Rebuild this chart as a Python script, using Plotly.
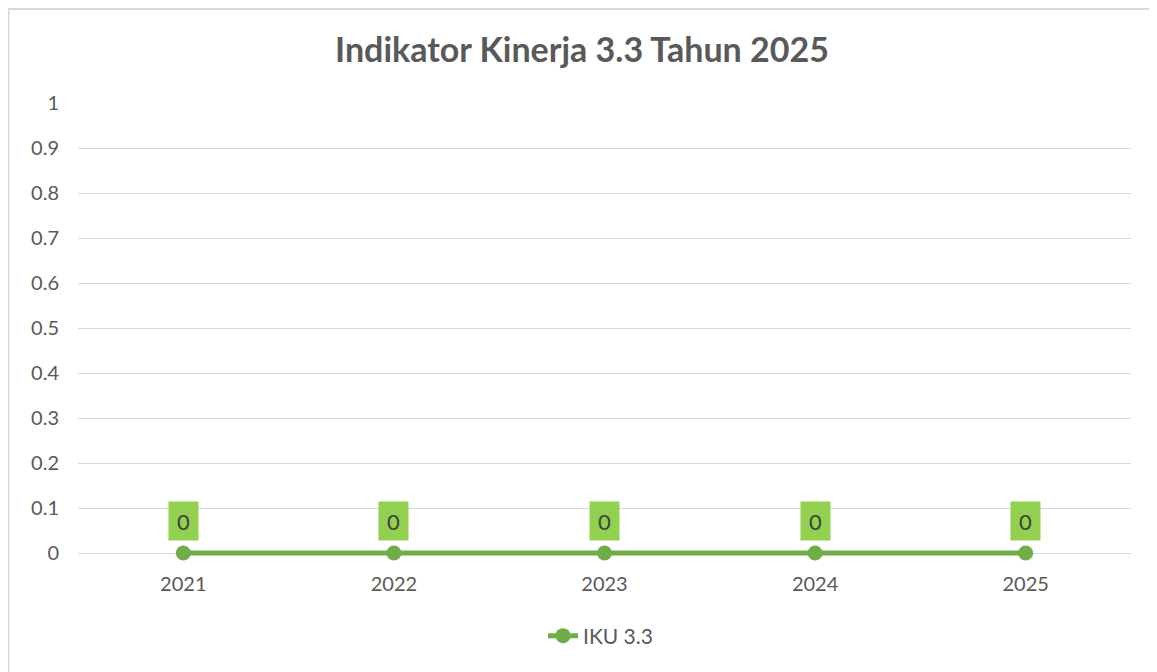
import plotly.graph_objects as go

years = ["2021", "2022", "2023", "2024", "2025"]
iku_values = [0, 0, 0, 0, 0]
series_name = "IKU 3.3"
title_text = "Indikator Kinerja 3.3 Tahun 2025"

OFF = 8  # page body margin
PAD = 4  # px of room below the zero line so the line is not clipped
W, H = 1157 - OFF, 672 - OFF
L, R, T, B = 78 - OFF, 26, 103 - OFF, 672 - 553 - PAD
pw, ph = W - L - R, H - T - B
ymin = -PAD / 450.0

FONT = "Lato"
GRAY = "#595959"
GREEN = "#70AD47"

fig = go.Figure()
fig.add_trace(go.Scatter(
    x=years, y=iku_values, name=series_name, mode="lines+markers",
    line=dict(color=GREEN, width=5),
    marker=dict(color=GREEN, size=15),
    cliponaxis=False,
))

for i, v in enumerate(iku_values):
    fig.add_annotation(
        x=i, y=v, xref="x", yref="y", text=str(v), showarrow=False, yshift=32,
        bgcolor="#92D050", width=29, height=38, borderpad=0,
        font=dict(family=FONT, size=22, color="#404040"),
    )

def px_x(p):
    return (p - OFF - L) / pw

def px_y(p):
    return (H - B - (p - OFF)) / ph

fig.add_shape(type="rect", xref="paper", yref="paper",
              x0=px_x(8.5), x1=px_x(1157 + 10), y0=px_y(672 + 10), y1=px_y(9),
              line=dict(color="#D9D9D9", width=2), fillcolor="rgba(0,0,0,0)", layer="below")

fig.update_layout(
    width=W, height=H,
    margin=dict(l=L, r=R, t=T, b=B),
    paper_bgcolor="white", plot_bgcolor="white",
    title=dict(text="<b>" + title_text + "</b>", x=(582 - OFF) / W, xanchor="center",
               y=1 - (50 - OFF) / H, yanchor="middle", xref="container", yref="container",
               font=dict(family=FONT, size=34, color=GRAY)),
    font=dict(family=FONT, size=20, color=GRAY),
    showlegend=True,
    legend=dict(orientation="h", x=px_x(583 - 40), xanchor="left", y=px_y(636), yanchor="middle",
                font=dict(family=FONT, size=21, color=GRAY)),
    xaxis=dict(type="category", range=[-0.5, 4.5], showgrid=False, zeroline=False,
               showline=False, ticks="outside", ticklen=13 - PAD, tickcolor="rgba(0,0,0,0)",
               tickfont=dict(size=20, color=GRAY)),
    yaxis=dict(range=[ymin, 1], tickvals=[i / 10 for i in range(11)],
               ticktext=["0", "0.1", "0.2", "0.3", "0.4", "0.5", "0.6", "0.7", "0.8", "0.9", "1"],
               showgrid=True,
               gridcolor="#D9D9D9", gridwidth=1, zeroline=False, showline=False,
               ticks="outside", ticklen=14, tickcolor="rgba(0,0,0,0)",
               tickfont=dict(size=20, color=GRAY)),
)

fig.write_html("out.html")
